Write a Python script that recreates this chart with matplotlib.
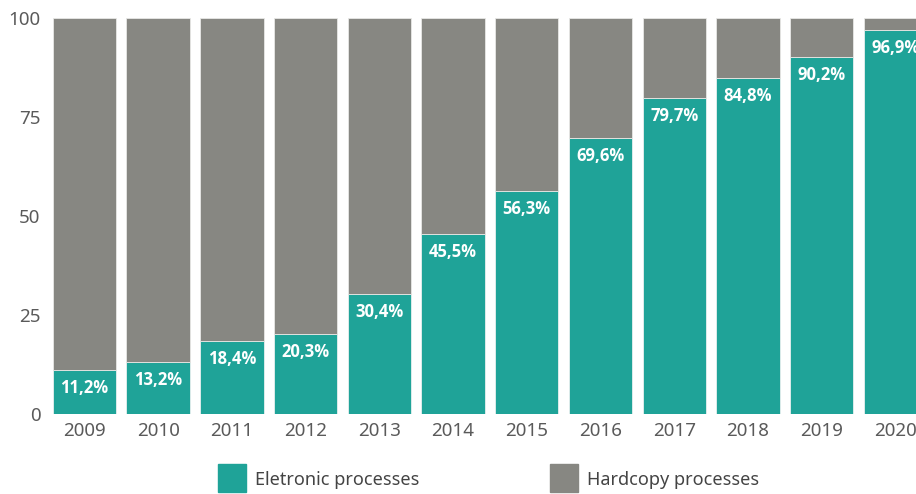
import matplotlib
matplotlib.use('Agg')
import matplotlib.pyplot as plt
from matplotlib.patches import Rectangle
import numpy as np

plt.rcParams['font.family'] = ['Noto Sans', 'DejaVu Sans']

years = ['2009', '2010', '2011', '2012', '2013', '2014', '2015', '2016', '2017', '2018', '2019', '2020']
eletronic = [11.2, 13.2, 18.4, 20.3, 30.4, 45.5, 56.3, 69.6, 79.7, 84.8, 90.2, 96.9]
hardcopy = [100 - v for v in eletronic]
legend_labels = ['Eletronic processes', 'Hardcopy processes']

teal = '#1FA398'
gray = '#878782'
txt = '#5a5a5a'

W, H = 916, 494
fig = plt.figure(figsize=(W / 100, H / 100), dpi=100)
ax = fig.add_axes([46 / W, 80 / H, (W - 46) / W, (414 - 18) / H])

x = np.arange(len(years))
bw = 0.86
ax.bar(x, eletronic, width=bw, color=teal, edgecolor='#e8f0ef', linewidth=0.6)
ax.bar(x, hardcopy, bottom=eletronic, width=bw, color=gray, edgecolor='#e8e8e6', linewidth=0.6)

for xi, v in zip(x, eletronic):
    ax.annotate(('%.1f%%' % v).replace('.', ','), (xi, v), xytext=(0, -13),
                textcoords='offset points', ha='center', va='center',
                color='white', fontsize=12, fontweight='bold',
                family=['Open Sans', 'DejaVu Sans'])

ax.set_xlim(-0.522, 11.28)
ax.set_ylim(0, 100)
ax.set_yticks([0, 25, 50, 75, 100])
ax.set_xticks(x)
ax.set_xticklabels(years)
ax.tick_params(length=0, labelsize=13.5, colors=txt)
ax.tick_params(axis='y', pad=4)
ax.tick_params(axis='x', pad=6)
for s in ax.spines.values():
    s.set_visible(False)

# legend
for px, lab, c in [(218, legend_labels[0], teal), (550, legend_labels[1], gray)]:
    fig.patches.append(Rectangle((px / W, 2 / H), 28 / W, 28 / H, color=c,
                                 transform=fig.transFigure, figure=fig))
    fig.text((px + 37) / W, 14 / H, lab, fontsize=13, color='#444444', va='center', ha='left')

fig.savefig('out.png', dpi=100)
